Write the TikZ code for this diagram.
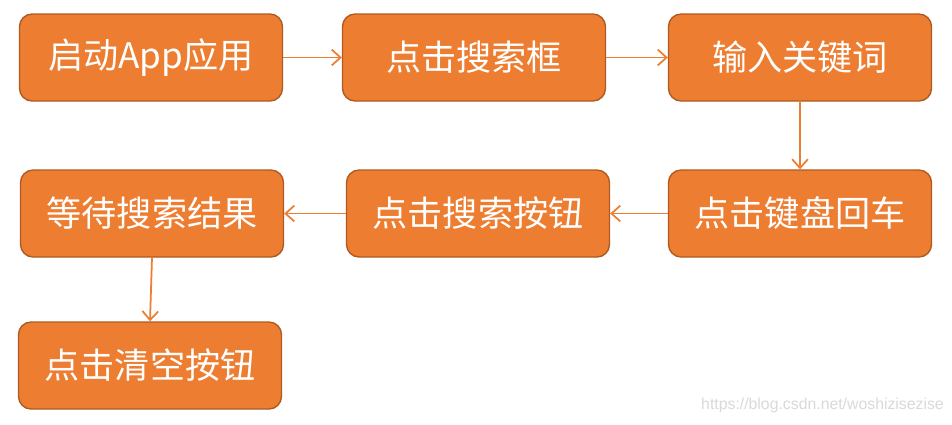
\documentclass[tikz,border=0pt]{standalone}
\usepackage{fontspec}
\usepackage{xcolor}
\usepackage{tikz}
\usetikzlibrary{arrows.meta}
\newfontfamily\cjk{Noto Sans CJK SC}
\setmainfont{Liberation Sans}
\definecolor{boxOrange}{HTML}{ED7D31}
\definecolor{boxEdge}{HTML}{AE5A21}

\begin{document}
\begin{tikzpicture}[x=0.02cm, y=-0.02cm]
% Define styles
\tikzstyle{stepBox}=[rectangle, rounded corners=0.25cm, minimum width=5.26cm, minimum height=1.74cm, text centered, draw=boxEdge, line width=0.8pt, fill=boxOrange, text=white, font=\cjk\fontsize{20}{22}\selectfont]
\tikzstyle{arrow}=[->, >={Straight Barb[length=5pt, width=9pt]}, draw=boxOrange, line width=1pt]

\useasboundingbox (0,0) rectangle (952,424);

% First row
\node[stepBox] (launch) at (151,57.5) {启动App应用};
\node[stepBox] (tapSearch) at (474,57.5) {点击搜索框};
\node[stepBox] (typeKey) at (800,57.5) {输入关键词};

% Second row
\node[stepBox] (waitResult) at (152,213.5) {等待搜索结果};
\node[stepBox] (tapButton) at (478,213.5) {点击搜索按钮};
\node[stepBox] (pressEnter) at (800,213.5) {点击键盘回车};

% Third row
\node[stepBox] (tapClear) at (150,365.5) {点击清空按钮};

% Arrows
\draw[arrow] (launch) -- (tapSearch);
\draw[arrow] (tapSearch) -- (typeKey);
\draw[arrow] (typeKey) -- (pressEnter);
\draw[arrow] (pressEnter) -- (tapButton);
\draw[arrow] (tapButton) -- (waitResult);
\draw[arrow] (waitResult.south) -- (tapClear.north);

% Watermark
\node[text=black!15, font=\fontsize{9}{10}\selectfont, anchor=east] (mark) at (950,405) {https://blog.csdn.net/woshizisezise};
\end{tikzpicture}
\end{document}
